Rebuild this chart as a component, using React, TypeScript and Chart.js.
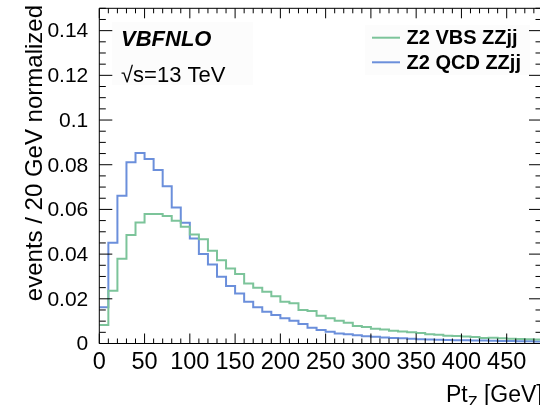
import React, { useEffect, useRef } from "react";
import { Chart, registerables } from "chart.js";

Chart.register(...registerables);

// ---- data (10 GeV bins starting at 0) ----
const binWidth = 10;
const vbsValues = [
  0.0083, 0.0236, 0.0379, 0.0485, 0.0542, 0.0579, 0.0579, 0.0571, 0.0549, 0.0522,
  0.0488, 0.0467, 0.0415, 0.0373, 0.0336, 0.0311, 0.0269, 0.0249, 0.0232, 0.0212,
  0.0187, 0.018, 0.015, 0.0145, 0.0124, 0.0113, 0.0102, 0.0093, 0.0078, 0.0074,
  0.0066, 0.0063, 0.0057, 0.0054, 0.005, 0.0047, 0.0041, 0.0039, 0.0035, 0.0034,
  0.0031, 0.0029, 0.0025, 0.0026, 0.0023, 0.0021, 0.002, 0.0019, 0.0018,
];
const qcdValues = [
  0.0162, 0.0451, 0.0661, 0.0811, 0.0853, 0.0826, 0.0776, 0.0704, 0.0609, 0.054,
  0.047, 0.04, 0.0354, 0.0299, 0.0257, 0.0224, 0.0187, 0.0162, 0.0142, 0.0127,
  0.0113, 0.0102, 0.0087, 0.0071, 0.006, 0.0053, 0.0045, 0.0041, 0.0037, 0.0033,
  0.003, 0.0027, 0.0025, 0.0023, 0.0021, 0.0019, 0.0018, 0.0017, 0.0016, 0.0015,
  0.0014, 0.0013, 0.0013, 0.0012, 0.0011, 0.0011, 0.001, 0.001, 0.0009,
];
const seriesNames = ["Z2 VBS ZZjj", "Z2 QCD ZZjj"];
const xTickValues = [0, 50, 100, 150, 200, 250, 300, 350, 400, 450];
const xTickLabels = ["0", "50", "100", "150", "200", "250", "300", "350", "400", "450"];
const yTickValues = [0, 0.02, 0.04, 0.06, 0.08, 0.1, 0.12, 0.14];
const yTickLabels = ["0", "0.02", "0.04", "0.06", "0.08", "0.1", "0.12", "0.14"];
const xMinorStep = 10;
const yMinorStep = 0.005;
const xMax = 489;
const yMax = 0.15;
const yTitle = "events / 20 GeV normalized";
const xTitleMain = "Pt";
const xTitleSub = "Z";
const xTitleUnit = " [GeV]";
const labelGen = "VBFNLO";
const labelEnergy = "\u221As=13 TeV";

const GREEN = "#7cc49a";
const BLUE = "#6b8fdb";
const FONT = '"Liberation Sans", Arial, sans-serif';

const W = 543;
const H = 405;

function toSteps(values: number[]) {
  const pts = values.map((v, i) => ({ x: i * binWidth, y: v }));
  pts.push({ x: values.length * binWidth, y: values[values.length - 1] });
  return pts;
}

const rootStyle = {
  id: "rootStyle",
  beforeDraw(chart: any) {
    const { ctx } = chart;
    ctx.save();
    ctx.fillStyle = "#ffffff";
    ctx.fillRect(0, 0, chart.width, chart.height);
    // faint boxes behind labels / legend
    ctx.fillStyle = "#fcfcfc";
    ctx.fillRect(112, 22, 141, 63);
    ctx.fillRect(365, 25, 165, 50);
    ctx.restore();
  },
  afterDraw(chart: any) {
    const { ctx } = chart;
    const a = chart.chartArea;
    const xs = chart.scales.x;
    const ys = chart.scales.y;
    ctx.save();
    ctx.strokeStyle = "#000";
    ctx.lineWidth = 1;
    // frame
    ctx.beginPath();
    ctx.moveTo(a.left, a.top);
    ctx.lineTo(a.left, a.bottom);
    ctx.lineTo(a.right, a.bottom);
    ctx.moveTo(a.left, a.top);
    ctx.lineTo(a.right, a.top);
    ctx.lineTo(a.right, a.bottom);
    ctx.stroke();

    // x ticks
    ctx.beginPath();
    for (let v = 0; v <= xMax + 1e-9; v += xMinorStep) {
      const px = xs.getPixelForValue(v);
      const major = Math.abs(v % 50) < 1e-9;
      const len = major ? 10 : 5;
      ctx.moveTo(px, a.bottom);
      ctx.lineTo(px, a.bottom - len);
      ctx.moveTo(px, a.top);
      ctx.lineTo(px, a.top + len);
    }
    // y ticks
    for (let i = 0; i * yMinorStep <= yMax + 1e-9; i++) {
      const v = i * yMinorStep;
      const py = ys.getPixelForValue(v);
      const major = i % 4 === 0;
      const len = major ? 13 : 6.5;
      ctx.moveTo(a.left, py);
      ctx.lineTo(a.left + len, py);
      ctx.moveTo(a.right, py);
      ctx.lineTo(a.right - len, py);
    }
    ctx.stroke();

    ctx.fillStyle = "#000";
    // y labels
    ctx.font = `21px ${FONT}`;
    ctx.textAlign = "right";
    ctx.textBaseline = "middle";
    yTickValues.forEach((v, i) => {
      ctx.fillText(yTickLabels[i], a.left - 11, ys.getPixelForValue(v) + 1);
    });
    // x labels
    ctx.font = `23.5px ${FONT}`;
    ctx.textAlign = "center";
    ctx.textBaseline = "alphabetic";
    xTickValues.forEach((v, i) => {
      ctx.fillText(xTickLabels[i], xs.getPixelForValue(v), 369);
    });

    // x title
    ctx.textAlign = "left";
    ctx.font = `23px ${FONT}`;
    let tx = 446;
    ctx.fillText(xTitleMain, tx, 401.5);
    tx += ctx.measureText(xTitleMain).width;
    ctx.font = `16px ${FONT}`;
    ctx.fillText(xTitleSub, tx, 408);
    tx += ctx.measureText(xTitleSub).width;
    ctx.font = `23px ${FONT}`;
    ctx.fillText(xTitleUnit, tx, 401.5);

    // y title
    ctx.save();
    ctx.translate(42, 5);
    ctx.rotate(-Math.PI / 2);
    ctx.textAlign = "right";
    ctx.font = `24px ${FONT}`;
    ctx.fillText(yTitle, 0, 0);
    ctx.restore();

    // labels
    ctx.textAlign = "left";
    ctx.font = `italic bold 22px ${FONT}`;
    ctx.fillText(labelGen, 121, 46);
    ctx.font = `22px ${FONT}`;
    ctx.fillText(labelEnergy, 121, 81.5);

    // legend
    const colors = [GREEN, BLUE];
    const ly = [37.7, 62.3];
    seriesNames.forEach((name, i) => {
      ctx.strokeStyle = colors[i];
      ctx.lineWidth = 2;
      ctx.beginPath();
      ctx.moveTo(372, ly[i]);
      ctx.lineTo(400, ly[i]);
      ctx.stroke();
      ctx.fillStyle = "#000";
      ctx.font = `bold 20px ${FONT}`;
      ctx.fillText(name, 406.5, ly[i] + 6.5);
    });
    ctx.restore();
  },
};

export default function App() {
  const ref = useRef<HTMLCanvasElement | null>(null);
  useEffect(() => {
    if (!ref.current) return;
    const chart = new Chart(ref.current, {
      type: "line",
      data: {
        datasets: [
          {
            label: seriesNames[0],
            data: toSteps(vbsValues),
            borderColor: GREEN,
            borderWidth: 2,
            pointRadius: 0,
            stepped: "before",
            fill: false,
          },
          {
            label: seriesNames[1],
            data: toSteps(qcdValues),
            borderColor: BLUE,
            borderWidth: 2,
            pointRadius: 0,
            stepped: "before",
            fill: false,
          },
        ],
      },
      options: {
        animation: false,
        responsive: false,
        devicePixelRatio: 1,
        layout: { padding: { top: 8.3, right: 1, left: 0, bottom: 0 } },
        plugins: { legend: { display: false }, tooltip: { enabled: false } },
        scales: {
          x: {
            type: "linear",
            min: 0,
            max: xMax,
            grid: { display: false },
            border: { display: false },
            ticks: { display: false },
            afterFit: (s: any) => {
              s.height = H - 343.5;
            },
          },
          y: {
            type: "linear",
            min: 0,
            max: yMax,
            grid: { display: false },
            border: { display: false },
            ticks: { display: false },
            afterFit: (s: any) => {
              s.width = 99.3;
            },
          },
        },
      },
      plugins: [rootStyle],
    } as any);
    return () => chart.destroy();
  }, []);
  return (
    <div style={{ position: "fixed", left: 0, top: 0, width: W, height: H, overflow: "hidden", background: "#fff" }}>
      <canvas ref={ref} width={W} height={H} style={{ display: "block" }} />
    </div>
  );
}
